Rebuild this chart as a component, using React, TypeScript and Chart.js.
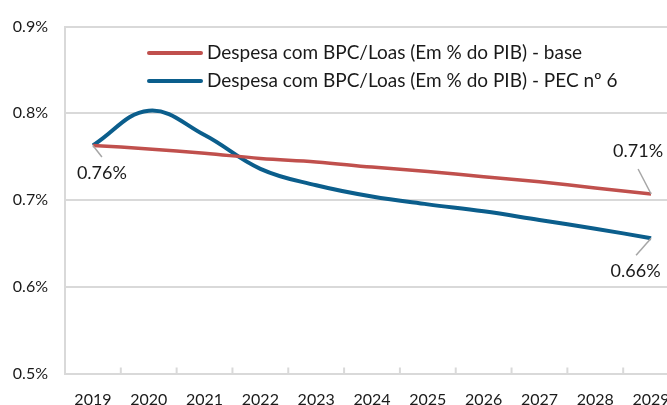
import React, { useEffect, useRef } from "react";
import { Chart, registerables } from "chart.js";

Chart.register(...registerables);

const years = ["2019", "2020", "2021", "2022", "2023", "2024", "2025", "2026", "2027", "2028", "2029"];
const baseValues = [0.763, 0.759, 0.754, 0.748, 0.744, 0.738, 0.733, 0.727, 0.721, 0.714, 0.707];
const pecValues = [0.763, 0.803, 0.775, 0.736, 0.717, 0.704, 0.695, 0.687, 0.677, 0.667, 0.656];
const seriesNames = ["Despesa com BPC/Loas (Em % do PIB) - base", "Despesa com BPC/Loas (Em % do PIB) - PEC nº 6"];
const yTicks = [0.5, 0.6, 0.7, 0.8, 0.9];

const RED = "#C0504D";
const BLUE = "#0B5E8C";
const GRID = "#D9D9D9";
const FONT = "Lato";

const overlay = {
  id: "overlay",
  afterDatasetsDraw(chart: any) {
    const ctx = chart.ctx;
    const area = chart.chartArea;
    const xs = chart.scales.x;
    ctx.save();
    const n = years.length;
    const step = xs.getPixelForValue(1) - xs.getPixelForValue(0);
    ctx.strokeStyle = GRID;
    ctx.lineWidth = 2;
    for (let i = 0; i <= n; i++) {
      const px = xs.getPixelForValue(0) - step / 2 + i * step;
      ctx.beginPath();
      ctx.moveTo(px, area.bottom);
      ctx.lineTo(px, area.bottom - 6);
      ctx.stroke();
    }
    const labels = [
      { ds: 0, idx: 0, text: baseValues[0].toFixed(2) + "%", dx: 9, dy: 28, lx: 9, ly: 11.5 },
      { ds: 0, idx: n - 1, text: baseValues[n - 1].toFixed(2) + "%", dx: -13, dy: -43, lx: -13, ly: -25 },
      { ds: 1, idx: n - 1, text: pecValues[n - 1].toFixed(2) + "%", dx: -15.5, dy: 33, lx: -15, ly: 17 },
    ];
    ctx.font = `18px ${FONT}`;
    ctx.textAlign = "center";
    ctx.textBaseline = "middle";
    for (const l of labels) {
      const pt = chart.getDatasetMeta(l.ds).data[l.idx];
      ctx.strokeStyle = "#A6A6A6";
      ctx.lineWidth = 1.5;
      ctx.beginPath();
      ctx.moveTo(pt.x, pt.y);
      ctx.lineTo(pt.x + l.lx, pt.y + l.ly);
      ctx.stroke();
      ctx.fillStyle = "#1a1a1a";
      ctx.fillText(l.text, pt.x + l.dx, pt.y + l.dy);
    }
    const colors = [RED, BLUE];
    const rows = [53, 81];
    ctx.textAlign = "left";
    ctx.font = `19px ${FONT}`;
    for (let i = 0; i < 2; i++) {
      ctx.strokeStyle = colors[i];
      ctx.lineWidth = 4;
      ctx.lineCap = "round";
      ctx.beginPath();
      ctx.moveTo(149, rows[i]);
      ctx.lineTo(201, rows[i]);
      ctx.stroke();
      ctx.fillStyle = "#1a1a1a";
      ctx.fillText(seriesNames[i], 207, rows[i]);
    }
    ctx.restore();
  },
};

export default function App() {
  const ref = useRef<HTMLCanvasElement>(null);
  useEffect(() => {
    if (!ref.current) return;
    const chart = new Chart(ref.current, {
      type: "line",
      data: {
        labels: years,
        datasets: [
          {
            label: seriesNames[0],
            data: baseValues,
            borderColor: RED,
            borderWidth: 3.5,
            pointRadius: 0,
            tension: 0.4,
            fill: false,
          },
          {
            label: seriesNames[1],
            data: pecValues,
            borderColor: BLUE,
            borderWidth: 4,
            pointRadius: 0,
            tension: 0.4,
            fill: false,
          },
        ],
      },
      options: {
        responsive: false,
        animation: false,
        layout: { padding: { left: 0, top: 20.5, right: 0, bottom: 0 } },
        plugins: { legend: { display: false }, tooltip: { enabled: false } },
        scales: {
          x: {
            type: "category",
            offset: true,
            grid: { display: false, offset: true },
            border: { display: true, color: GRID, width: 2 },
            ticks: { color: "#1a1a1a", font: { family: FONT, size: 16 }, padding: 9, maxRotation: 0, autoSkip: false },
            afterFit: (s: any) => { s.height = 31.5; },
          },
          y: {
            min: 0.5,
            max: 0.9,
            afterBuildTicks: (s: any) => { s.ticks = yTicks.map((v) => ({ value: v })); },
            grid: { color: GRID, lineWidth: 2, drawTicks: false },
            border: { display: true, color: GRID, width: 2 },
            ticks: {
              color: "#1a1a1a",
              font: { family: FONT, size: 16 },
              padding: 17,
              callback: (v: any) => Number(v).toFixed(1) + "%",
            },
            afterFit: (s: any) => { s.width = 65; },
          },
        },
      },
      plugins: [overlay],
    });
    return () => chart.destroy();
  }, []);
  return (
    <div style={{ position: "fixed", left: 0, top: 0, width: 667, height: 405, overflow: "hidden", background: "#fff" }}>
      <canvas ref={ref} width={679} height={405} style={{ display: "block" }} />
    </div>
  );
}
